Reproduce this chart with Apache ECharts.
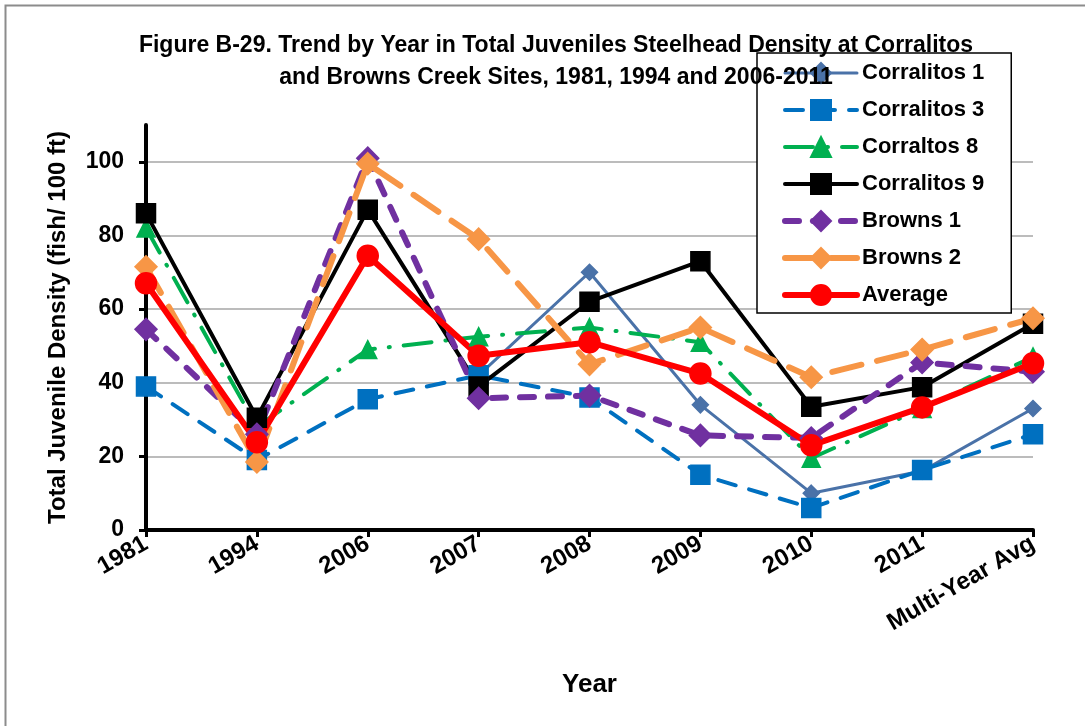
<!DOCTYPE html>
<html>
<head>
<meta charset="utf-8">
<script src="https://cdn.jsdelivr.net/npm/echarts@6.0.0/dist/echarts.min.js"></script>
<style>
  html, body { margin: 0; padding: 0; background: #fff; }
  #chart { width: 1085px; height: 726px; }
</style>
</head>
<body>
<div id="chart"></div>
<script>
// categories on the x axis
const years = ["1981", "1994", "2006", "2007", "2008", "2009", "2010", "2011", "Multi-Year Avg"];

// density values (fish / 100 ft)
const corralitos1 = [null, null, null, 42, 70, 34, 10, 16, 33];
const corralitos3 = [39, 19, 35.5, 42, 36, 15, 6, 16.3, 26];
const corraltos8 = [82, 28, 49, 52.5, 55, 51, 19.5, 33, 47];
const corralitos9 = [86, 30.5, 87, 39, 62, 73, 33.5, 38.8, 56];
const browns1 = [54.5, 26, 101, 35.8, 36.5, 25.7, 25, 45.5, 43];
const browns2 = [71.5, 18.5, 99.5, 79, 45, 55, 41.5, 49, 57.5];
const average = [67, 23.8, 74.5, 47.3, 51, 42.5, 23, 33.3, 45.3];

const yTicks = [0, 20, 40, 60, 80, 100];

const font = "Liberation Sans";

function lineSeries(name, data, color, width, dash, symbol, size) {
  return {
    name: name,
    type: "line",
    data: data,
    symbol: symbol,
    symbolSize: size,
    connectNulls: false,
    lineStyle: {
      color: color,
      width: width,
      type: dash,
      cap: "round",
      join: "round",
    },
    itemStyle: {
      color: color,
      borderColor: color,
      borderWidth: 1.5,
    },
    emphasis: { disabled: true },
  };
}

const chart = echarts.init(document.getElementById("chart"));
const option = {
  animation: false,
  backgroundColor: "#fff",
  graphic: [
    {
      type: "rect",
      shape: { x: 5.5, y: 5.5, width: 1200, height: 900 },
      style: { fill: "none", stroke: "#8c8c8c", lineWidth: 2 },
      silent: true,
    },
  ],
  title: {
    text: "Figure B-29. Trend by Year in Total Juveniles Steelhead Density at Corralitos\nand Browns Creek Sites, 1981, 1994 and 2006-2011",
    left: 551,
    top: 25,
    textAlign: "center",
    textStyle: {
      fontFamily: font,
      fontSize: 23,
      fontWeight: "bold",
      color: "#000",
      lineHeight: 32,
    },
  },
  legend: {
    orient: "vertical",
    left: 757,
    top: 53,
    padding: [9, 27, 7, 25],
    itemWidth: 72,
    itemHeight: 25,
    itemGap: 15,
    backgroundColor: "#fff",
    borderColor: "#000",
    borderWidth: 1.5,
    borderRadius: 0,
    lineStyle: { width: "inherit" },
    textStyle: {
      fontFamily: font,
      fontSize: 22,
      fontWeight: "bold",
      color: "#000",
    },
    data: ["Corralitos 1", "Corralitos 3", "Corraltos 8", "Corralitos 9", "Browns 1", "Browns 2", "Average"],
  },
  grid: {
    left: 146,
    right: 52,
    top: 125,
    bottom: 196,
    outerBoundsMode: "none",
  },
  xAxis: {
    type: "category",
    data: years,
    boundaryGap: false,
    name: "Year",
    nameLocation: "middle",
    nameGap: 142,
    nameTextStyle: {
      fontFamily: font,
      fontSize: 26,
      fontWeight: "bold",
      color: "#000",
    },
    axisLine: { show: true, onZero: false, lineStyle: { color: "#000", width: 4 } },
    axisTick: { show: true, alignWithLabel: true, length: 7, lineStyle: { color: "#000", width: 3 } },
    axisLabel: {
      rotate: 30,
      margin: 12,
      interval: 0,
      fontFamily: font,
      fontSize: 24,
      fontWeight: "bold",
      color: "#000",
    },
    splitLine: { show: false },
  },
  yAxis: {
    type: "value",
    min: 0,
    max: 110,
    interval: 20,
    name: "Total Juvenile Density (fish/ 100 ft)",
    nameLocation: "middle",
    nameGap: 76,
    nameTextStyle: {
      fontFamily: font,
      fontSize: 24,
      fontWeight: "bold",
      color: "#000",
    },
    axisLine: { show: true, lineStyle: { color: "#000", width: 4 } },
    axisTick: { show: true, length: 7, customValues: yTicks, lineStyle: { color: "#000", width: 3 } },
    axisLabel: {
      margin: 22,
      customValues: yTicks,
      fontFamily: font,
      fontSize: 23,
      fontWeight: "bold",
      color: "#000",
    },
    splitLine: {
      show: true,
      lineStyle: { color: "#a6a6a6", width: 1.5 },
    },
  },
  series: [
    lineSeries("Corralitos 1", corralitos1, "#4a72a8", 3, "solid", "diamond", 16),
    lineSeries("Corralitos 3", corralitos3, "#0070c0", 4, [18, 14], "rect", 19),
    lineSeries("Corraltos 8", corraltos8, "#00b050", 4, [28, 14, 1, 14], "triangle", 18),
    lineSeries("Corralitos 9", corralitos9, "#000000", 4, "solid", "rect", 19),
    lineSeries("Browns 1", browns1, "#7030a0", 6, [14, 14], "diamond", 22),
    lineSeries("Browns 2", browns2, "#f79646", 6, [30, 16], "diamond", 22),
    lineSeries("Average", average, "#ff0000", 6, "solid", "circle", 21),
  ],
};
chart.setOption(option);
</script>
</body>
</html>
